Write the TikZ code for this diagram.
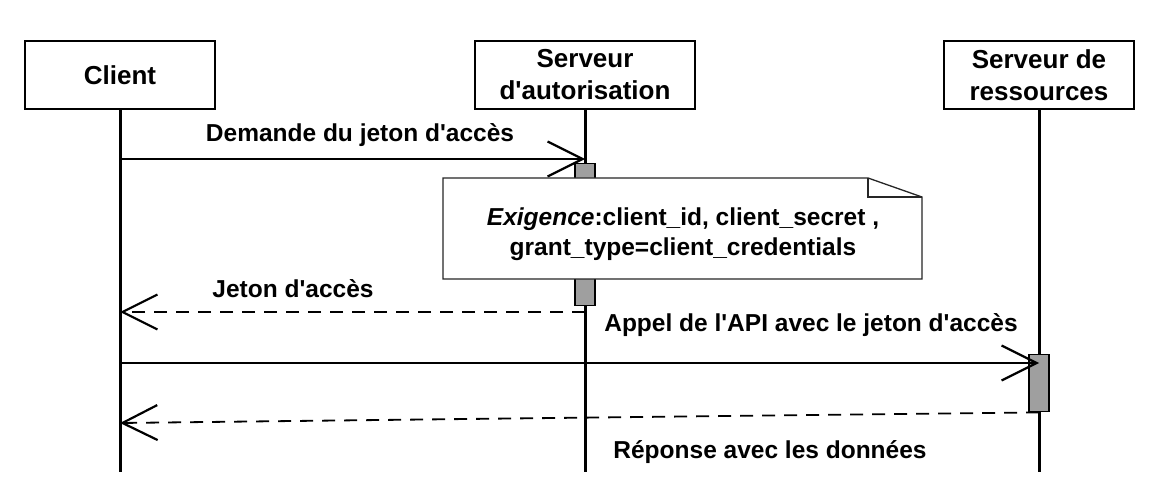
\documentclass[tikz,border=0pt]{standalone}
\usepackage{fontspec}
\setmainfont{Liberation Sans}
\usetikzlibrary{arrows.meta}
\newcommand{\apo}{\textquotesingle}

\begin{document}
\begin{tikzpicture}[x=1pt, y=-1pt,
  actor/.style={draw, line width=2.2pt, minimum height=68pt, inner sep=0pt, align=center, font=\bfseries\fontsize{26}{32}\selectfont},
  lifeline/.style={line width=3pt},
  activation/.style={draw, line width=1.4pt, fill=gray!75, minimum width=20pt, inner sep=0pt, anchor=north},
  msg/.style={line width=1.8pt, -{Straight Barb[length=35pt, width=35pt, line width=2.2pt]}},
  reply/.style={msg, dash pattern=on 13pt off 9pt},
  lbl/.style={font=\bfseries\fontsize{24.5}{30}\selectfont}]
  \useasboundingbox (0,0) rectangle (1150,502);

  % Participants
  \node[actor, minimum width=190pt] (client) at (120,75) {Client};
  \node[actor, minimum width=220pt] (auth) at (585,75) {Serveur\\d\apo autorisation};
  \node[actor, minimum width=190pt] (res) at (1039,75) {Serveur de\\ressources};

  % Lifelines
  \coordinate (client end) at (120,472);
  \coordinate (auth end) at (585,472);
  \coordinate (res end) at (1039,472);
  \draw[lifeline] (client.south) -- (client end);
  \draw[lifeline] (auth.south) -- (auth end);
  \draw[lifeline] (res.south) -- (res end);

  % Activation bars
  \node[activation, minimum height=142pt] (authact) at (585,163) {};
  \node[activation, minimum height=57pt] (resact) at (1039,354) {};

  % Messages (y positions of each exchange)
  \coordinate (m1) at (0,159);
  \coordinate (m2) at (0,312);
  \coordinate (m3) at (0,363);
  \coordinate (m4) at (0,423);
  \draw[msg] (client |- m1) -- (auth |- m1);
  \draw[reply] (auth |- m2) -- (client |- m2);
  \draw[msg] (client |- m3) -- (res |- m3);
  \draw[reply] (resact.south) -- (client |- m4);

  % Note attached to the authorisation server
  \filldraw[fill=white, draw=black!85, line width=1.3pt] (443,178) -- (868,178) -- (922,197) -- (922,279) -- (443,279) -- cycle;
  \draw[black!85, line width=1.3pt] (868,178) -- (868,197) -- (922,197);
  \node[lbl, align=center] (note) at (683,234) {\textit{Exigence}:client\_id, client\_secret ,\\grant\_type=client\_credentials};

  % Message labels
  \node[lbl] (l1) at (360,135) {Demande du jeton d\apo accès};
  \node[lbl] (l2) at (293,289) {Jeton d\apo accès};
  \node[lbl] (l3) at (811,325) {Appel de l\apo API avec le jeton d\apo accès};
  \node[lbl] (l4) at (770,452) {Réponse avec les données};
\end{tikzpicture}
\end{document}
